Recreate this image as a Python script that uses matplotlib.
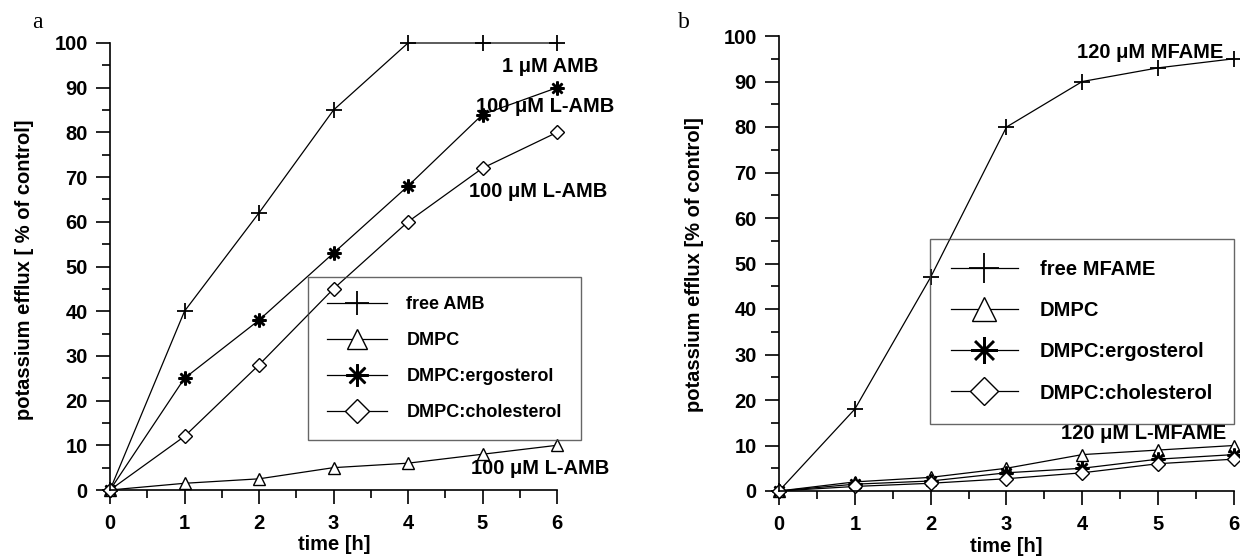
import numpy as np
import matplotlib
matplotlib.use("Agg")
import matplotlib.pyplot as plt
from matplotlib.ticker import MultipleLocator

plt.rcParams['font.family'] = ['Liberation Sans', 'DejaVu Sans']
plt.rcParams['font.weight'] = 'bold'

## Data
hours = [0, 1, 2, 3, 4, 5, 6]

# panel a: amphotericin B
amb_free = [0, 40, 62, 85, 100, 100, 100]
amb_dmpc = [0, 1.5, 2.5, 5, 6, 8, 10]
amb_ergo = [0, 25, 38, 53, 68, 84, 90]
amb_chol = [0, 12, 28, 45, 60, 72, 80]

# panel b: MFAME
mf_free = [0, 18, 47, 80, 90, 93, 95]
mf_dmpc = [0, 2, 3, 5, 8, 9, 10]
mf_ergo = [0, 1.5, 2.2, 4, 5, 7, 8]
mf_chol = [0, 1, 1.7, 2.7, 4, 6, 7]

labels_a = ['free AMB', 'DMPC', 'DMPC:ergosterol', 'DMPC:cholesterol']
labels_b = ['free MFAME', 'DMPC', 'DMPC:ergosterol', 'DMPC:cholesterol']

W, H = 1240, 557
fig = plt.figure(figsize=(W/100, H/100), dpi=100)

ax_a = fig.add_axes([110/W, 1-490/H, 447/W, 447/H])
ax_b = fig.add_axes([779/W, 1-491/H, 455/W, 455/H])

# marker styles: plus, open triangle, asterisk, open diamond
styles = [
    dict(marker='+', ms=11, mew=1.3),
    dict(marker='^', ms=9, mew=1.0, mfc='white'),
    dict(marker=(8, 2, 0), ms=10, mew=1.8),
    dict(marker='D', ms=7.5, mew=1.0, mfc='white'),
]

def draw_panel(ax, series, labels, fs_leg, mscale, leg_xy, leg_pad, hlen, lspace):
    for y, lab, st in zip(series, labels, styles):
        ax.plot(hours, y, color='black', lw=0.9, mec='black', label=lab,
                clip_on=False, **st)
    ax.set_xlim(0, 6)
    ax.set_ylim(0, 100)
    ax.xaxis.set_major_locator(MultipleLocator(1))
    ax.xaxis.set_minor_locator(MultipleLocator(0.5))
    ax.yaxis.set_major_locator(MultipleLocator(10))
    ax.yaxis.set_minor_locator(MultipleLocator(5))
    ax.spines['top'].set_visible(False)
    ax.spines['right'].set_visible(False)
    for s in ['left', 'bottom']:
        ax.spines[s].set_linewidth(1.2)
    ax.tick_params(which='major', direction='out', length=10, width=1.2,
                   labelsize=14.5, pad=6)
    ax.tick_params(which='minor', direction='out', length=6, width=1.2)
    ax.tick_params(axis='x', which='major', pad=7)
    for t in ax.get_xticklabels() + ax.get_yticklabels():
        t.set_fontweight('bold')
    leg = ax.legend(loc='upper left', bbox_to_anchor=leg_xy, borderaxespad=0,
                    fontsize=fs_leg, markerscale=mscale, handlelength=hlen,
                    handletextpad=1.1, borderpad=leg_pad, labelspacing=lspace,
                    fancybox=False, frameon=True)
    leg.get_frame().set_facecolor('none')
    leg.get_frame().set_edgecolor('#404040')
    leg.get_frame().set_linewidth(1.0)
    leg.set_clip_on(False)
    return leg

draw_panel(ax_a, [amb_free, amb_dmpc, amb_ergo, amb_chol], labels_a,
           13, 1.6, (0.443, 0.4765), 1.05, 3.3, 1.05)
draw_panel(ax_b, [mf_free, mf_dmpc, mf_ergo, mf_chol], labels_b,
           14.5, 1.9, (0.332, 0.554), 1.05, 3.3, 1.1)

## annotations
ann_kw = dict(fontsize=14.5, fontweight='bold', ha='center', va='center', clip_on=False)
ax_a.text(5.91, 94.7, '1 \u03bcM AMB', **ann_kw)
ax_a.text(5.84, 85.7, '100 \u03bcM L-AMB', **ann_kw)
ax_a.text(5.74, 66.8, '100 \u03bcM L-AMB', **ann_kw)
ax_a.text(5.77, 4.7, '100 \u03bcM L-AMB', **ann_kw)
ax_b.text(4.90, 96.3, '120 \u03bcM MFAME', **ann_kw)
ax_b.text(4.81, 12.7, '120 \u03bcM L-MFAME', **ann_kw)

## axis labels
fig.text(25/W, 1-270/H, 'potassium efflux [ % of control]', rotation=90,
         ha='center', va='center', fontsize=14.5, fontweight='bold')
fig.text(695/W, 1-265/H, 'potassium efflux [% of control]', rotation=90,
         ha='center', va='center', fontsize=14.5, fontweight='bold')
fig.text(334/W, 1-545/H, 'time [h]', ha='center', va='center',
         fontsize=14.5, fontweight='bold')
fig.text(1006/W, 1-547/H, 'time [h]', ha='center', va='center',
         fontsize=14.5, fontweight='bold')

## panel letters
fig.text(37/W, 1-22/H, 'a', family='Liberation Serif', fontweight='normal',
         fontsize=17, ha='center', va='center')
fig.text(684/W, 1-22/H, 'b', family='Liberation Serif', fontweight='normal',
         fontsize=17, ha='center', va='center')

fig.savefig('out.png', dpi=100)
